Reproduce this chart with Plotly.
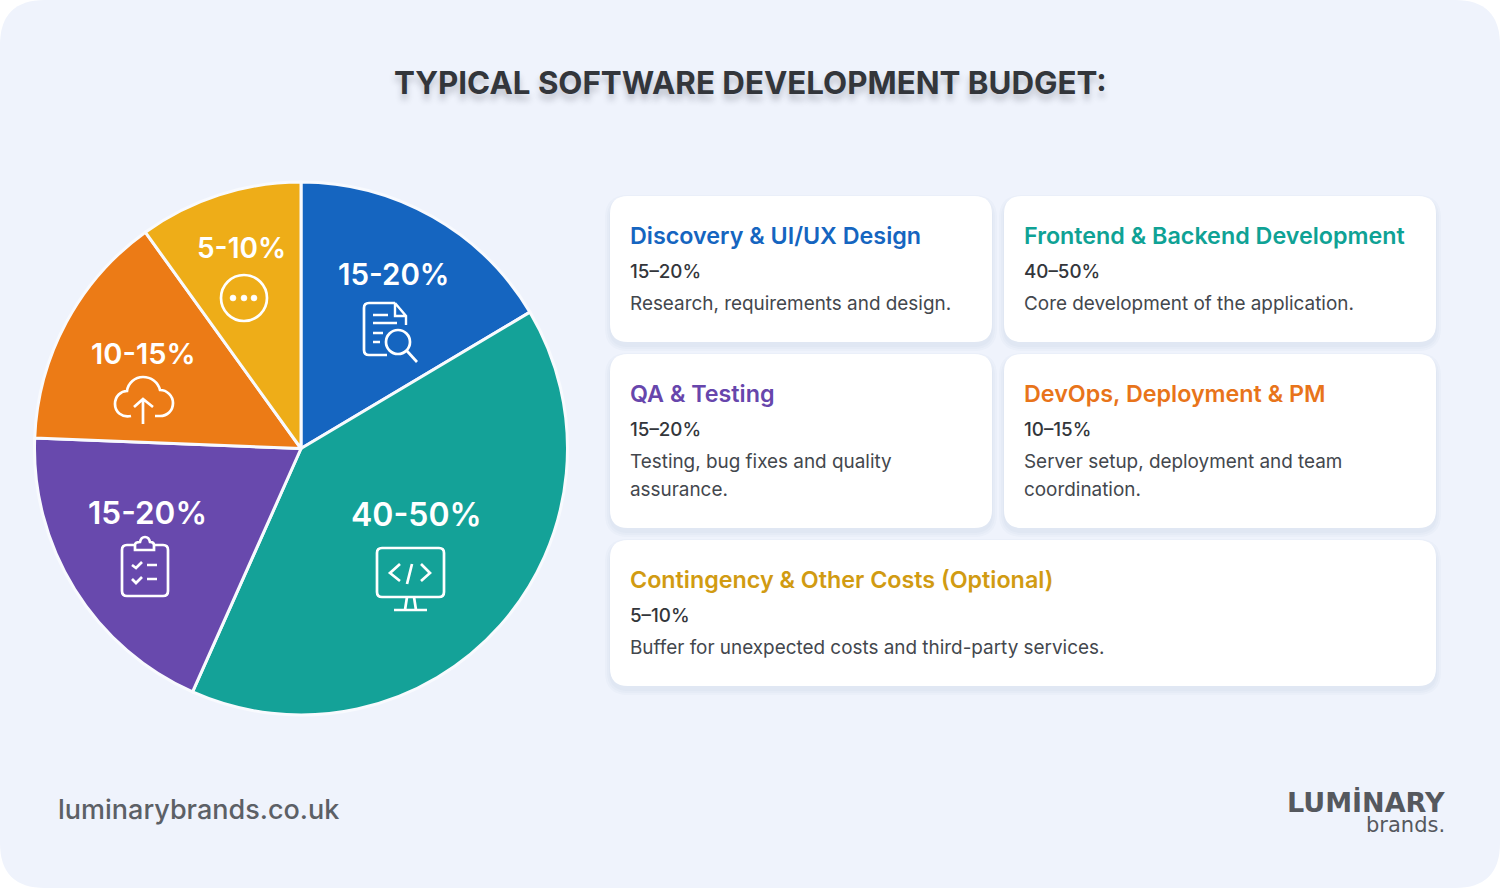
import plotly.graph_objects as go

W, H = 1500, 888

# Data
categories = ['Discovery & UI/UX Design', 'Frontend & Backend Development', 'QA & Testing',
              'DevOps, Deployment & PM', 'Contingency & Other Costs (Optional)']
shares = [16.4, 40.1, 18.9, 14.4, 9.9]
ranges = ['15-20%', '40-50%', '15-20%', '10-15%', '5-10%']
card_ranges = ['15–20%', '40–50%', '15–20%', '10–15%', '5–10%']
descriptions = [
    ['Research, requirements and design.'],
    ['Core development of the application.'],
    ['Testing, bug fixes and quality', 'assurance.'],
    ['Server setup, deployment and team', 'coordination.'],
    ['Buffer for unexpected costs and third-party services.'],
]
colors = ['#1565C0', '#14A298', '#6849AD', '#EC7B16', '#EEAD18']
title_colors = ['#1565C0', '#0FA295', '#6746AC', '#E8741A', '#D19B12']

FONT = 'Inter'
DARK = '#33363B'
cx, cy, r = 301, 448.5, 266.5


def rounded(x0, y0, x1, y1, rad):
    return (f'M {x0+rad} {y0} L {x1-rad} {y0} Q {x1} {y0} {x1} {y0+rad} '
            f'L {x1} {y1-rad} Q {x1} {y1} {x1-rad} {y1} L {x0+rad} {y1} '
            f'Q {x0} {y1} {x0} {y1-rad} L {x0} {y0+rad} Q {x0} {y0} {x0+rad} {y0} Z')


shapes = []


def add_shape(path, fill='rgba(0,0,0,0)', line=None, width=0, layer='above'):
    shapes.append(dict(type='path', path=path, xref='x', yref='y', layer=layer, fillcolor=fill,
                       line=dict(color=line or 'rgba(0,0,0,0)', width=width)))


def icon(path, width=2.7):
    add_shape(path, line='white', width=width)


def add_circle(x, y, rad, fill='rgba(0,0,0,0)', width=2.7):
    shapes.append(dict(type='circle', xref='x', yref='y', x0=x-rad, x1=x+rad, y0=y-rad, y1=y+rad,
                       fillcolor=fill, layer='above', line=dict(color='white', width=width)))


# page background
add_shape(rounded(0, 0, W, H, 45), fill='#EFF3FC', layer='below')

# cards with a soft shadow
boxes = [(610, 196, 992, 342), (1004, 196, 1436, 342), (610, 354, 992, 528),
         (1004, 354, 1436, 528), (610, 540, 1436, 686)]
for x0, y0, x1, y1 in boxes:
    for grow in (5, 3, 1):
        add_shape(rounded(x0-grow, y0-grow+4, x1+grow, y1+grow+4, 18+grow), fill='rgba(60,70,110,0.025)', layer='below')
    add_shape(rounded(x0, y0, x1, y1, 18), fill='white', layer='below')

# document + lens
icon('M 395 303 L 369 303 Q 364 303 364 308 L 364 350 Q 364 355 369 355 L 387 355')
icon('M 395 303 L 406 316 L 406 325 M 395 303 L 395 316 L 406 316', 2.4)
icon('M 373 315 L 388 315 M 373 323 L 397 323 M 373 333 L 383 333 M 373 342 L 380 342')
add_circle(398, 342, 12)
icon('M 407 351 L 417 362')
# cloud upload
icon('M 131 416 C 122 418 115 412 115 404 C 115 396 121 391 127 391 C 128 383 135 377 143 377 '
     'C 151 377 158 382 160 390 C 167 390 173 396 173 403 C 173 411 167 416 160 416 L 155 416')
icon('M 143 424 L 143 399 M 134 407 L 143 399 L 153 407')
# ellipsis circle
add_circle(244, 298, 23)
for dot_x in (233, 244, 254):
    add_circle(dot_x, 298, 3, fill='white', width=0.5)
# clipboard
icon('M 135 545 L 127 545 Q 122 545 122 550 L 122 591 Q 122 596 127 596 L 163 596 Q 168 596 168 591 '
     'L 168 550 Q 168 545 163 545 L 154 545')
icon('M 135 550 L 135 545 Q 135 542 140 542 Q 141 537 145 537 Q 149 537 150 542 Q 154 542 154 545 L 154 550 Z')
icon('M 132 565 L 136 568 L 142 562 M 147 565 L 157 565 M 132 579 L 136 583 L 142 577 M 147 579 L 157 579')
# monitor
icon(rounded(377, 548, 444, 597, 5))
icon('M 407 597 L 405 610 M 414 597 L 416 610 M 394 610 L 427 610')
icon('M 400 564 L 390 573 L 400 581 M 412 564 L 407 584 M 421 564 L 430 573 L 421 581')

annotations = []


def add_text(x, y, text, size, color, weight=400, anchor='left', shadow=None, family=FONT):
    font = dict(family=family, size=size, color=color, weight=weight)
    if shadow:
        font['shadow'] = shadow
    annotations.append(dict(x=x, y=y, xref='x', yref='y', text=text, showarrow=False,
                            xanchor=anchor, yanchor='middle', font=font))


add_text(750, 83, 'TYPICAL SOFTWARE DEVELOPMENT BUDGET:', 31.3, DARK, 700, 'center',
         shadow='0px 6px 6px rgba(40,45,60,0.25)')

# percentage labels on the slices
label_pos = [(393, 274, 29.5), (416, 514, 32), (147, 512, 31.5), (143, 353, 29), (241, 248, 28)]
for (x, y, size), txt in zip(label_pos, ranges):
    add_text(x, y, txt, size, 'white', 600, 'center')

# card text
text_left = [628, 1022, 628, 1022, 628]
title_y = [235.5, 235.5, 393.5, 393.5, 579.5]
for i, cat in enumerate(categories):
    add_text(text_left[i], title_y[i], cat, 23.3, title_colors[i], 600)
    add_text(text_left[i], title_y[i]+35.5, card_ranges[i], 18.8, DARK, 500)
    for j, line in enumerate(descriptions[i]):
        add_text(text_left[i], title_y[i]+67.5+28*j, line, 18.9, '#43474D', 400)

# footer
add_text(56, 809, 'luminarybrands.co.uk', 27, '#5C6066', 500)
add_text(1447, 802, 'LUMİNARY', 27, '#55585E', 700, 'right', family='DejaVu Sans')
add_text(1447, 825, 'brands.', 21, '#55585E', 400, 'right', family='DejaVu Sans')

fig = go.Figure()
fig.add_trace(go.Scatter(x=[0], y=[0], mode='none', showlegend=False, hoverinfo='skip'))
fig.add_trace(go.Pie(labels=categories, values=shares, sort=False, direction='clockwise', rotation=0,
                     marker=dict(colors=colors, line=dict(color='#F8FAFE', width=3)),
                     textinfo='none', hoverinfo='skip', showlegend=False,
                     domain=dict(x=[(cx-r)/W, (cx+r)/W], y=[1-(cy+r)/H, 1-(cy-r)/H])))
fig.update_layout(width=W, height=H, margin=dict(l=0, r=0, t=0, b=0),
                  paper_bgcolor='white', plot_bgcolor='rgba(0,0,0,0)',
                  xaxis=dict(range=[0, W], visible=False, fixedrange=True),
                  yaxis=dict(range=[H, 0], visible=False, fixedrange=True),
                  shapes=shapes, annotations=annotations)
fig.write_html('out.html', config={'displayModeBar': False},
               post_script="document.body.style.margin='0';")
